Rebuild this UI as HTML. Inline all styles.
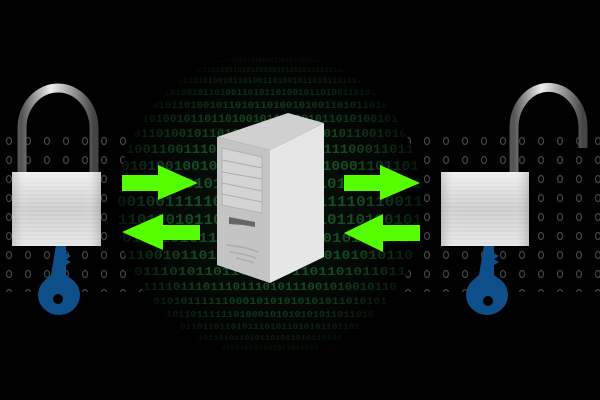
<!DOCTYPE html>
<html><head><meta charset="utf-8"><style>
html,body{margin:0;padding:0;background:#000;}
svg{display:block;}
</style></head><body>
<svg width="600" height="400" viewBox="0 0 600 400" xmlns="http://www.w3.org/2000/svg">
<defs>
<pattern id="dots" x="0" y="132" width="19" height="19" patternUnits="userSpaceOnUse">
<ellipse cx="9" cy="9" rx="2.5" ry="3.5" fill="none" stroke="#444" stroke-width="1.2"/>
</pattern>
<radialGradient id="sph" cx="0.5" cy="0.5" r="0.5">
<stop offset="0" stop-color="#0a140c"/><stop offset="0.85" stop-color="#040805"/><stop offset="1" stop-color="#000"/>
</radialGradient>
<radialGradient id="vig" cx="0.5" cy="0.5" r="0.5">
<stop offset="0" stop-color="#000" stop-opacity="0"/><stop offset="0.6" stop-color="#000" stop-opacity="0.15"/><stop offset="0.9" stop-color="#000" stop-opacity="0.55"/><stop offset="1" stop-color="#000" stop-opacity="0.75"/>
</radialGradient>
<clipPath id="cc"><circle cx="270" cy="205" r="153"/></clipPath>
<linearGradient id="body" x1="0" y1="0" x2="0" y2="1">
<stop offset="0" stop-color="#f0f0f0"/><stop offset="0.5" stop-color="#c9c9c9"/><stop offset="1" stop-color="#e4e4e4"/>
</linearGradient>
<linearGradient id="bodyh" x1="0" y1="0" x2="1" y2="0">
<stop offset="0" stop-color="#999" stop-opacity="0.4"/><stop offset="0.2" stop-color="#fff" stop-opacity="0"/><stop offset="0.8" stop-color="#fff" stop-opacity="0"/><stop offset="1" stop-color="#888" stop-opacity="0.4"/>
</linearGradient>
<linearGradient id="shk" x1="0" y1="0" x2="1" y2="0">
<stop offset="0" stop-color="#555"/><stop offset="0.4" stop-color="#eee"/><stop offset="0.7" stop-color="#999"/><stop offset="1" stop-color="#444"/>
</linearGradient>
<pattern id="lines" width="4" height="4" patternUnits="userSpaceOnUse"><rect width="4" height="2" fill="#fff" opacity="0.18"/></pattern>
</defs>
<rect width="600" height="400" fill="#000"/>
<rect x="0" y="132" width="600" height="160" fill="url(#dots)"/>
<circle cx="270" cy="205" r="153" fill="url(#sph)"/>
<g clip-path="url(#cc)" font-family="Liberation Mono, monospace" font-weight="bold" fill="#23803a">
<text x="216" y="62" font-size="6" textLength="108" opacity="0.4" lengthAdjust="spacingAndGlyphs">0101100110100101101011001011</text>
<text x="194" y="72" font-size="7" textLength="152" opacity="0.45" lengthAdjust="spacingAndGlyphs">10110100110101101001011010110100110</text>
<text x="178" y="83" font-size="8" textLength="184" opacity="0.5" lengthAdjust="spacingAndGlyphs">0110101001011010011010010110101101001</text>
<text x="164" y="95" font-size="9" textLength="212" opacity="0.5" lengthAdjust="spacingAndGlyphs">10100101101001101011010010110100110101</text>
<text x="152" y="108" font-size="10" textLength="236" opacity="0.55" lengthAdjust="spacingAndGlyphs">0101101001011010110100101001101011010</text>
<text x="142" y="122" font-size="11" textLength="256" opacity="0.6" lengthAdjust="spacingAndGlyphs">1010010110110100101101001011010100101</text>
<text x="133" y="137" font-size="12" textLength="274" opacity="0.6" lengthAdjust="spacingAndGlyphs">011010010110101101001101001011001010</text>
<text x="126" y="153" font-size="13" textLength="288" opacity="0.65" lengthAdjust="spacingAndGlyphs">10011001110100101101001011100011011</text>
<text x="121" y="170" font-size="14" textLength="298" opacity="0.65" lengthAdjust="spacingAndGlyphs">0101001001011010011010110001101101</text>
<text x="118" y="188" font-size="15" textLength="304" opacity="0.65" lengthAdjust="spacingAndGlyphs">10110100101101001010110101101001</text>
<text x="117" y="206" font-size="15" textLength="306" opacity="0.65" lengthAdjust="spacingAndGlyphs">00100111110010110100011110110011</text>
<text x="118" y="224" font-size="15" textLength="304" opacity="0.65" lengthAdjust="spacingAndGlyphs">11010010110101001011010110100101</text>
<text x="122" y="242" font-size="14" textLength="296" opacity="0.65" lengthAdjust="spacingAndGlyphs">0101101011010010110100101101010</text>
<text x="127" y="259" font-size="13" textLength="286" opacity="0.65" lengthAdjust="spacingAndGlyphs">11001011010101101001100101010110</text>
<text x="134" y="275" font-size="12" textLength="272" opacity="0.65" lengthAdjust="spacingAndGlyphs">0111010110110111101101101011011</text>
<text x="143" y="290" font-size="11" textLength="254" opacity="0.65" lengthAdjust="spacingAndGlyphs">1111011101110111010111001010010110</text>
<text x="153" y="304" font-size="10" textLength="234" opacity="0.6" lengthAdjust="spacingAndGlyphs">0101011111100010101010101011010101</text>
<text x="166" y="317" font-size="9" textLength="208" opacity="0.55" lengthAdjust="spacingAndGlyphs">1011011111101000101010101011011010</text>
<text x="180" y="329" font-size="8" textLength="180" opacity="0.5" lengthAdjust="spacingAndGlyphs">01101101101011101011010101101101</text>
<text x="198" y="340" font-size="7" textLength="144" opacity="0.45" lengthAdjust="spacingAndGlyphs">1011010110101101011010110101</text>
<text x="221" y="350" font-size="6" textLength="98" opacity="0.4" lengthAdjust="spacingAndGlyphs">010110101101011010110</text>
</g>
<circle cx="270" cy="205" r="153" fill="url(#vig)"/>
<!-- left lock -->
<path d="M22 175 V128 A36 40 0 0 1 94 128 V175" fill="none" stroke="url(#shk)" stroke-width="9"/>
<path d="M56 245 h10 v8 l5 3 -5 3 5 3 -5 3 v10 l8 6 a21 20 0 1 1 -30 0 l7 -6z" fill="#0e4f8a"/>
<circle cx="58" cy="299" r="5" fill="#000"/>
<rect x="12" y="172" width="89" height="74" fill="url(#body)"/>
<rect x="12" y="172" width="89" height="74" fill="url(#lines)"/>
<rect x="12" y="172" width="89" height="74" fill="url(#bodyh)"/>
<!-- right lock -->
<path d="M514 175 V128 A34 40 0 0 1 583 128 V148" fill="none" stroke="url(#shk)" stroke-width="9"/>
<path d="M484 245 h10 v8 l5 3 -5 3 5 3 -5 3 v10 l8 6 a21 20 0 1 1 -30 0 l7 -6z" fill="#0e4f8a"/>
<circle cx="488" cy="301" r="5" fill="#000"/>
<rect x="441" y="172" width="88" height="74" fill="url(#body)"/>
<rect x="441" y="172" width="88" height="74" fill="url(#lines)"/>
<rect x="441" y="172" width="88" height="74" fill="url(#bodyh)"/>
<!-- arrows -->
<g fill="#55ff00">
<polygon points="122,175 158,175 158,165 198,183 158,200 158,191 122,191"/>
<polygon points="200,225 163,225 163,214 122,232 163,250 163,240 200,240"/>
<polygon points="344,175 380,175 380,165 420,183 380,200 380,191 344,191"/>
<polygon points="420,225 383,225 383,214 344,233 383,252 383,241 420,241"/>
</g>
<!-- server -->
<polygon points="217,137 288,113 324,123 270,150" fill="#d0d0d0"/>
<polygon points="270,150 324,123 324,257 270,283" fill="#e6e6e6"/>
<polygon points="217,137 270,150 270,283 217,265" fill="#c4c4c4"/>
<polygon points="222,148 262,157 262,213 222,205" fill="#d4d4d4" stroke="#aaa" stroke-width="0.8"/>
<g stroke="#aaa" stroke-width="1"><line x1="222" y1="160" x2="262" y2="168"/><line x1="222" y1="172" x2="262" y2="179"/><line x1="222" y1="183" x2="262" y2="191"/><line x1="222" y1="194" x2="262" y2="202"/></g>
<path d="M229 217 L255 222 L255 227 L243 225 L229 224 Z" fill="#666"/>
<g fill="none" stroke="#aaa" stroke-width="1.5"><path d="M226 245 Q243 246 258 252"/><path d="M230 252 Q245 254 256 258"/><path d="M236 258 Q246 260 254 263"/></g>
</svg>
</body></html>
